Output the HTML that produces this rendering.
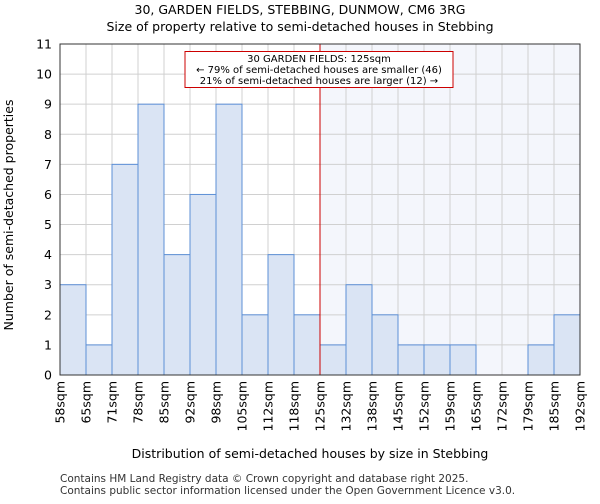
<!DOCTYPE html>
<html><head><meta charset="utf-8"><style>
body{margin:0;background:#fff;font-family:"DejaVu Sans","Liberation Sans",sans-serif;}
</style></head><body>
<svg id="chart" width="600" height="500" xmlns="http://www.w3.org/2000/svg" font-family="DejaVu Sans, Liberation Sans, sans-serif">
<text x="300" y="14" text-anchor="middle" font-size="12.5">30, GARDEN FIELDS, STEBBING, DUNMOW, CM6 3RG</text>
<text x="300" y="31" text-anchor="middle" font-size="12.5">Size of property relative to semi-detached houses in Stebbing</text>
<g id="plot"></g>
<text x="310" y="458" text-anchor="middle" font-size="12.5">Distribution of semi-detached houses by size in Stebbing</text>
<text transform="translate(13,215) rotate(-90)" text-anchor="middle" font-size="12.5">Number of semi-detached properties</text>
<text x="60" y="482" font-size="10.5" fill="#333">Contains HM Land Registry data © Crown copyright and database right 2025.</text>
<text x="60" y="494" font-size="10.5" fill="#333">Contains public sector information licensed under the Open Government Licence v3.0.</text>
</svg>
<script>
const binLabels=["58sqm","65sqm","71sqm","78sqm","85sqm","92sqm","98sqm","105sqm","112sqm","118sqm","125sqm","132sqm","138sqm","145sqm","152sqm","159sqm","165sqm","172sqm","179sqm","185sqm","192sqm"];
const counts=[3,1,7,9,4,6,9,2,4,2,1,3,2,1,1,1,0,0,1,2];
const yTicks=[0,1,2,3,4,5,6,7,8,9,10,11];
const markerIndex=10;
const NS="http://www.w3.org/2000/svg";
const g=document.getElementById("plot");
const L=60,R=580,T=44,B=375,yMax=11;
const xs=i=>L+(R-L)*i/counts.length;
const ys=v=>B-(B-T)*v/yMax;
function mk(t,a){const e=document.createElementNS(NS,t);for(const k in a)e.setAttribute(k,a[k]);g.appendChild(e);return e;}
let e=mk("rect",{x:xs(markerIndex),y:T,width:R-xs(markerIndex),height:B-T,fill:"#f4f6fc"});


yTicks.forEach(v=>{
 let l=mk("line",{x1:L,x2:R,y1:ys(v),y2:ys(v),stroke:"#d0d0d0","stroke-width":1});
 
 
 let t=mk("text",{x:L-8,y:ys(v)+4.5,"text-anchor":"end","font-size":"12.5"});t.textContent=v;
 
 
});
binLabels.forEach((s,i)=>{
 let l=mk("line",{x1:xs(i),x2:xs(i),y1:T,y2:B,stroke:"#d0d0d0","stroke-width":1});
 
 
 let t=mk("text",{transform:`translate(${xs(i)+4.5},${B+6}) rotate(-90)`,"text-anchor":"end","font-size":"12.5"});t.textContent=s;
 
 
});
counts.forEach((c,i)=>{
 if(c<=0)return;
 let r=mk("rect",{x:xs(i),y:ys(c),width:xs(i+1)-xs(i),height:B-ys(c),fill:"#dae4f4",stroke:"#5c8fd6","stroke-width":1});
 
 
});
let ml=mk("line",{x1:xs(markerIndex),x2:xs(markerIndex),y1:T,y2:B,stroke:"#cc0000","stroke-width":1});


let ab=mk("rect",{x:185,y:51.5,width:268,height:36,fill:"#fff",stroke:"#cc0000","stroke-width":1});


["30 GARDEN FIELDS: 125sqm","← 79% of semi-detached houses are smaller (46)","21% of semi-detached houses are larger (12) →"].forEach((s,i)=>{
 let t=mk("text",{x:319,y:62+i*11,"text-anchor":"middle","font-size":"10"});t.textContent=s;
 
 
});
let ax=mk("rect",{x:L,y:T,width:R-L,height:B-T,fill:"none",stroke:"#333","stroke-width":1});


</script>
</body></html>
